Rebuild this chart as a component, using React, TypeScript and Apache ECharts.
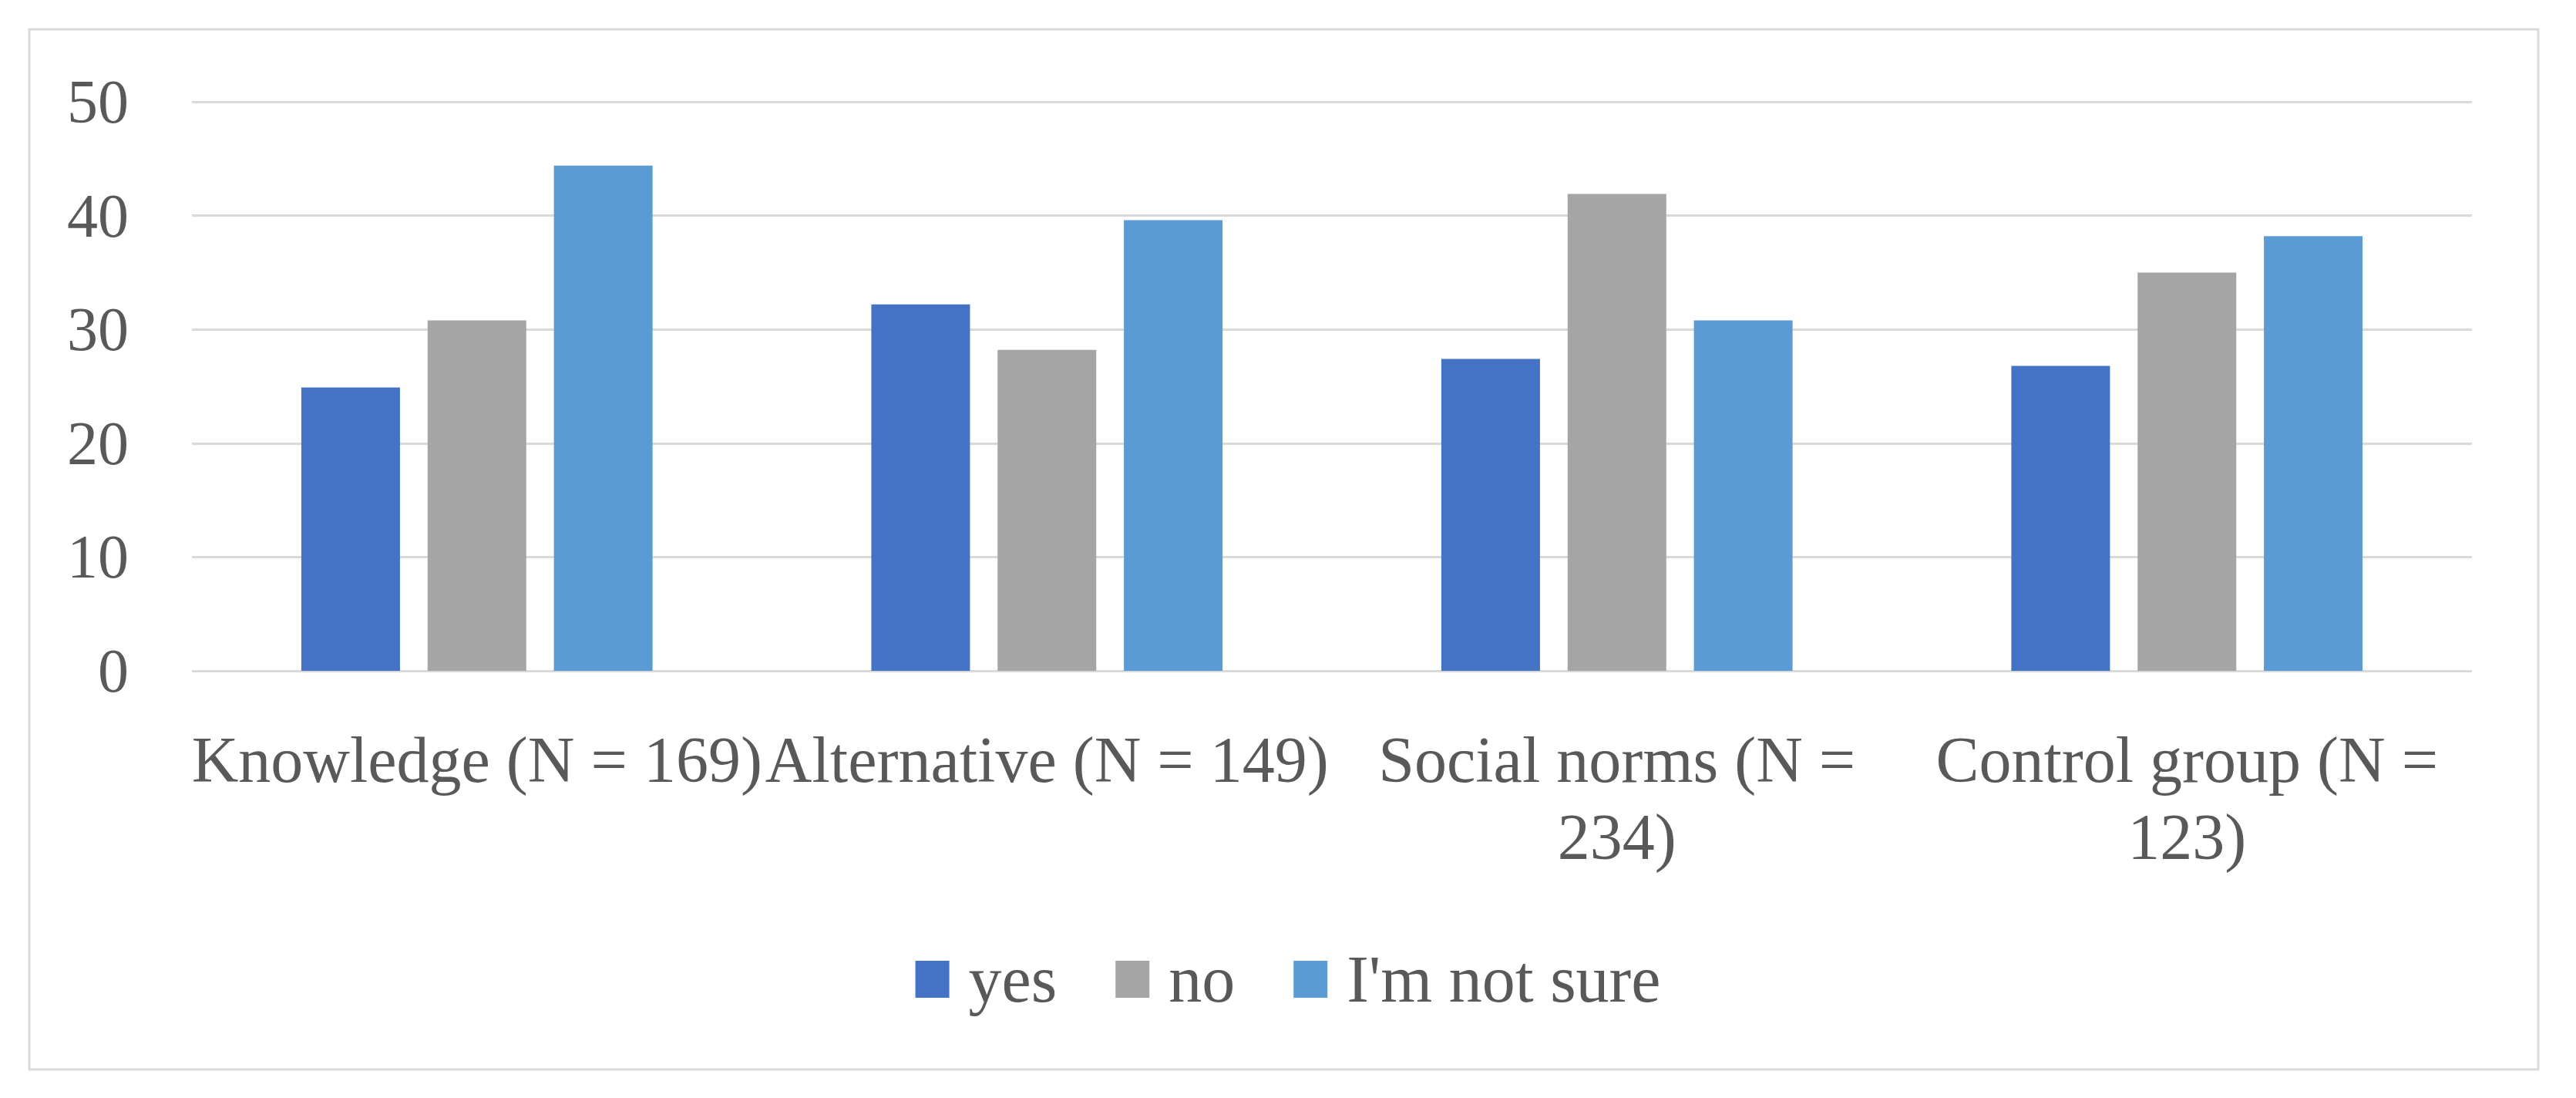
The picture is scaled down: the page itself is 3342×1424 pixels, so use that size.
import React, { useEffect, useRef } from "react";
import * as echarts from "echarts";

const categories = ["Knowledge (N = 169)", "Alternative (N = 149)", "Social norms (N = 234)", "Control group (N = 123)"];
const categoryLabels = ["Knowledge (N = 169)", "Alternative (N = 149)", "Social norms (N =\n234)", "Control group (N =\n123)"];
const seriesNames = ["yes", "no", "I'm not sure"];
const yesValues = [24.9, 32.2, 27.4, 26.8];
const noValues = [30.8, 28.2, 41.9, 35.0];
const notSureValues = [44.4, 39.6, 30.8, 38.2];
const colors = ["#4472C4", "#A5A5A5", "#5B9BD5"];
const yTicks = { min: 0, max: 50, interval: 10 };

const FONT = "'Liberation Serif', 'Times New Roman', serif";
const TEXT = "#595959";

export default function App() {
  const ref = useRef<HTMLDivElement>(null);
  useEffect(() => {
    if (!ref.current) return;
    const chart = echarts.init(ref.current, undefined, { renderer: "svg" });
    const values = [yesValues, noValues, notSureValues];
    chart.setOption({
      animation: false,
      backgroundColor: "#ffffff",
      textStyle: { fontFamily: FONT },
      graphic: [
        {
          type: "rect",
          shape: { x: 38, y: 38, width: 3255, height: 1349 },
          style: { fill: "none", stroke: "#D9D9D9", lineWidth: 3 },
          silent: true,
        },
      ],
      grid: { left: 249, right: 135, top: 132, bottom: 554, containLabel: false },
      legend: {
        data: seriesNames,
        left: "center",
        top: 1222,
        itemWidth: 44,
        itemHeight: 48,
        itemGap: 76,
        icon: "rect",
        textStyle: {
          fontFamily: FONT,
          fontSize: 86,
          color: TEXT,
          lineHeight: 80,
          padding: [0, 0, 0, 20],
        },
      },
      xAxis: {
        type: "category",
        data: categories,
        axisLine: { show: false },
        axisTick: { show: false },
        axisLabel: {
          interval: 0,
          margin: 65,
          fontFamily: FONT,
          fontSize: 84,
          lineHeight: 100,
          color: TEXT,
          formatter: (_v: string, i: number) => categoryLabels[i],
        },
      },
      yAxis: {
        type: "value",
        min: yTicks.min,
        max: yTicks.max,
        interval: yTicks.interval,
        axisLine: { show: false },
        axisTick: { show: false },
        axisLabel: { margin: 82, fontFamily: FONT, fontSize: 80, color: TEXT },
        splitLine: { lineStyle: { color: "#D9D9D9", width: 3 } },
      },
      series: seriesNames.map((name, i) => ({
        name,
        type: "bar",
        data: values[i],
        barWidth: 128,
        barGap: "28%",
        itemStyle: { color: colors[i] },
      })),
    });
    return () => chart.dispose();
  }, []);
  return <div ref={ref} style={{ position: "fixed", left: 0, top: 0, width: 3342, height: 1424 }} />;
}
